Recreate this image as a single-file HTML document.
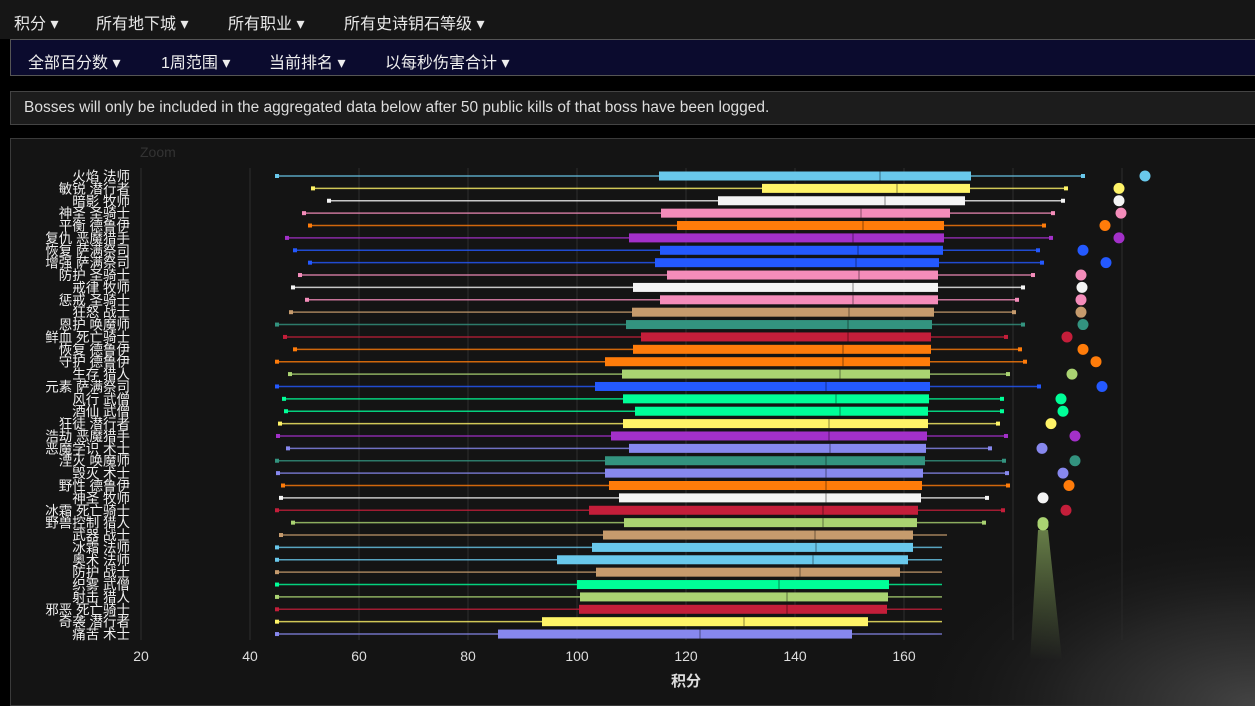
<!DOCTYPE html>
<html><head><meta charset="utf-8"><style>
body{margin:0;width:1255px;height:706px;overflow:hidden;background:#000;font-family:"Liberation Sans","Noto Sans CJK SC",sans-serif;position:relative}
.top{position:absolute;left:0;top:0;width:1255px;height:39px;background:#161616;color:#e8e8e8;font-size:16px}
.top span,.nav span{position:absolute;top:10px}
.nav{position:absolute;left:10px;top:39px;width:1245px;height:37px;background:#0b0b2e;border:1px solid #555;border-right:none;box-sizing:border-box;color:#eee;font-size:16px}
.nav span{top:9px}
.note{position:absolute;left:10px;top:91px;width:1245px;height:34px;background:#1c1c1c;border:1px solid #444;border-right:none;box-sizing:border-box;color:#ddd;font-size:15.5px;padding:7px 13px}
.panel{position:absolute;left:10px;top:138px;width:1245px;height:568px;background:#141414;border:1px solid #3a3a3a;border-right:none;box-sizing:border-box}
svg{position:absolute;left:0;top:0}
</style></head><body>
<div class="top"><span style="left:14px">积分 ▾</span><span style="left:96px">所有地下城 ▾</span><span style="left:228px">所有职业 ▾</span><span style="left:344px">所有史诗钥石等级 ▾</span></div>
<div class="nav"><span style="left:17px">全部百分数 ▾</span><span style="left:150px">1周范围 ▾</span><span style="left:258px">当前排名 ▾</span><span style="left:374px">以每秒伤害合计 ▾</span></div>
<div class="note">Bosses will only be included in the aggregated data below after 50 public kills of that boss have been logged.</div>
<div class="panel"></div>
<svg id="c" width="1255" height="706" xmlns="http://www.w3.org/2000/svg">
<defs>
<radialGradient id="fog" cx="1" cy="1" r="1"><stop offset="0" stop-color="#444" stop-opacity="1"/><stop offset="0.5" stop-color="#2a2a2a" stop-opacity="0.8"/><stop offset="1" stop-color="#141414" stop-opacity="0"/></radialGradient>
<linearGradient id="cone" x1="0" y1="0" x2="0" y2="1"><stop offset="0" stop-color="#aad372" stop-opacity="0.55"/><stop offset="1" stop-color="#aad372" stop-opacity="0"/></linearGradient>
</defs>
<text x="140" y="157" fill="#333" font-size="14">Zoom</text>
</svg>
<script>
const s=document.getElementById('c');const NS='http://www.w3.org/2000/svg';
function el(t,a,txt){const e=document.createElementNS(NS,t);for(const k in a)e.setAttribute(k,a[k]);if(txt)e.textContent=txt;s.appendChild(e);return e;}
const ticks=[20,40,60,80,100,120,140,160];
for(let i=0;i<10;i++){const x=141+i*109;el('line',{x1:x,y1:168,x2:x,y2:640,stroke:'#2e2e2e','stroke-width':1});}
ticks.forEach((t,i)=>el('text',{x:141+i*109,y:661,fill:'#ddd','font-size':14,'text-anchor':'middle'},String(t)));
el('text',{x:686,y:686,fill:'#ddd','font-size':15,'font-weight':'bold','text-anchor':'middle'},'积分');
const C={mage:'#69c8eb',rog:'#fff468',pri:'#f4f4f4',pal:'#f48cba',dru:'#ff7c0a',dh:'#a330c9',sha:'#2459ff',war:'#c69b6d',evo:'#33937f',dk:'#c41e3a',hun:'#aad372',mon:'#00ff98',wl:'#8788ee'};
const d=[
['火焰 法师','mage',277,659,880,971,1083,1145],['敏锐 潜行者','rog',313,762,897,970,1066,1119],['暗影 牧师','pri',329,718,885,965,1063,1119],
['神圣 圣骑士','pal',304,661,861,950,1053,1121],['平衡 德鲁伊','dru',310,677,863,944,1044,1105],['复仇 恶魔猎手','dh',287,629,853,944,1051,1119],
['恢复 萨满祭司','sha',295,660,858,943,1038,1083],['增强 萨满祭司','sha',310,655,856,939,1042,1106],['防护 圣骑士','pal',300,667,859,938,1033,1081],
['戒律 牧师','pri',293,633,853,938,1023,1082],['惩戒 圣骑士','pal',307,660,853,938,1017,1081],['狂怒 战士','war',291,632,849,934,1014,1081],
['恩护 唤魔师','evo',277,626,848,932,1023,1083],['鲜血 死亡骑士','dk',285,641,848,931,1006,1067],['恢复 德鲁伊','dru',295,633,843,931,1020,1083],
['守护 德鲁伊','dru',277,605,843,930,1025,1096],['生存 猎人','hun',290,622,840,930,1008,1072],['元素 萨满祭司','sha',277,595,826,930,1039,1102],
['风行 武僧','mon',284,623,836,929,1002,1061],['酒仙 武僧','mon',286,635,840,928,1002,1063],['狂徒 潜行者','rog',280,623,829,928,998,1051],
['浩劫 恶魔猎手','dh',278,611,829,927,1006,1075],['恶魔学识 术士','wl',288,629,830,926,990,1042],['湮灭 唤魔师','evo',277,605,826,925,1004,1075],
['毁灭 术士','wl',278,605,826,923,1007,1063],['野性 德鲁伊','dru',283,609,826,922,1008,1069],['神圣 牧师','pri',281,619,826,921,987,1043],
['冰霜 死亡骑士','dk',277,589,823,918,1003,1066],['野兽控制 猎人','hun',293,624,823,917,984,1043],['武器 战士','war',281,603,815,913,947,0],
['冰霜 法师','mage',277,592,816,913,942,0],['奥术 法师','mage',277,557,813,908,942,0],['防护 战士','war',277,596,800,900,942,0],
['织雾 武僧','mon',277,577,779,889,942,0],['射击 猎人','hun',277,580,787,888,942,0],['邪恶 死亡骑士','dk',277,579,787,887,942,0],
['奇袭 潜行者','rog',277,542,744,868,942,0],['痛苦 术士','wl',277,498,700,852,942,0]];
d.forEach((r,i)=>{const y=176+i*12.38,c=C[r[1]];
el('text',{x:130,y:y+5,fill:'#f0f0f0','font-size':13.5,'text-anchor':'end'},r[0]);
el('line',{x1:r[2],y1:y,x2:r[6],y2:y,stroke:c,'stroke-width':1.5,'stroke-opacity':0.8});
el('rect',{x:r[2]-2,y:y-2,width:4,height:4,fill:c});
if(r[7])el('rect',{x:r[6]-2,y:y-2,width:4,height:4,fill:c});
el('rect',{x:r[3],y:y-4.5,width:r[5]-r[3],height:9,fill:c});
el('line',{x1:r[4],y1:y-4.5,x2:r[4],y2:y+4.5,stroke:'rgba(0,0,0,0.3)','stroke-width':1.5});
if(r[7])el('circle',{cx:r[7],cy:y,r:5.5,fill:c});
});
el('rect',{x:900,y:520,width:355,height:186,fill:'url(#fog)'});
el('polygon',{points:'1038,530 1048,530 1062,660 1030,660',fill:'url(#cone)'});
el('circle',{cx:1043,cy:525,r:5.5,fill:'#aad372'});
</script>
</body></html>
